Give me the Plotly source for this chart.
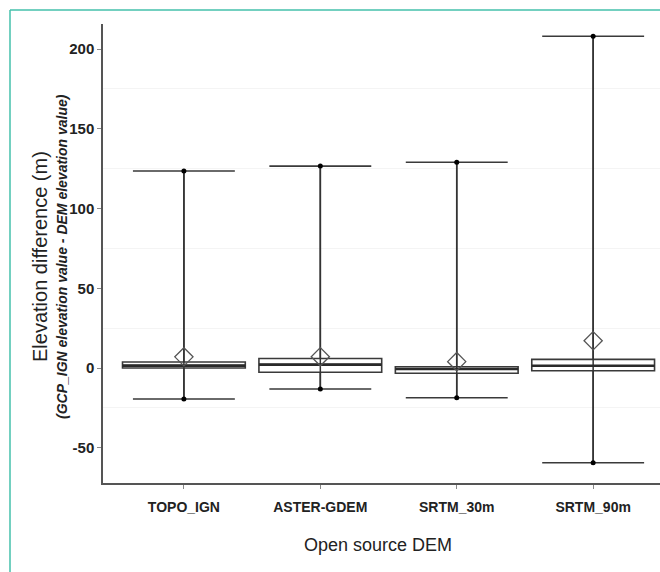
import plotly.graph_objects as go

categories = ["TOPO_IGN", "ASTER-GDEM", "SRTM_30m", "SRTM_90m"]
q1 = [0.0, -2.7, -3.3, -1.7]
median = [1.5, 2.1, -0.6, 1.4]
q3 = [3.8, 6.0, 0.8, 5.4]
minimum = [-19.4, -13.2, -18.6, -59.4]
maximum = [123.5, 126.6, 129.0, 208.0]
mean = [7.0, 7.1, 4.0, 17.1]
yticks = [-50, 0, 50, 100, 150, 200]
ytick_labels = ["-50", "0", "50", "100", "150", "200"]

pos = list(range(len(categories)))
BOXW = 0.9

# plot area in pixels
W, H = 660, 572
L, R, T, B = 103, 0, 24, 89
pw, ph = W - L - R, H - T - B

def px(xp):
    return (xp - L) / pw

def py(yp):
    return (H - B - yp) / ph

fig = go.Figure()

fig.add_trace(go.Box(
    x=pos, q1=q1, median=median, q3=q3,
    lowerfence=minimum, upperfence=maximum,
    width=BOXW, whiskerwidth=0.83,
    fillcolor="rgba(255,255,255,0)",
    line=dict(color="#3a3a3a", width=1.6),
    boxpoints=False, showlegend=False, hoverinfo="skip",
))

# vertical range lines through the boxes
for i in pos:
    fig.add_trace(go.Scatter(
        x=[pos[i], pos[i]], y=[minimum[i], maximum[i]], mode="lines",
        line=dict(color="#333333", width=1.5), showlegend=False, hoverinfo="skip"))
    fig.add_trace(go.Scatter(
        x=[pos[i] - BOXW / 2, pos[i] + BOXW / 2], y=[median[i], median[i]], mode="lines",
        line=dict(color="#2a2a2a", width=2.6), showlegend=False, hoverinfo="skip"))

# end dots
fig.add_trace(go.Scatter(
    x=pos + pos, y=minimum + maximum, mode="markers",
    marker=dict(color="black", size=5), showlegend=False, hoverinfo="skip"))

# mean diamonds
fig.add_trace(go.Scatter(
    x=pos, y=mean, mode="markers",
    marker=dict(symbol="diamond-open", color="#555555", size=14, line=dict(width=1.3)),
    showlegend=False, hoverinfo="skip"))

fig.update_layout(
    width=W, height=H,
    margin=dict(l=L, r=R, t=T, b=B, pad=0),
    plot_bgcolor="white", paper_bgcolor="white",
    font=dict(family="Liberation Sans, Arial, sans-serif", color="#222222"),
    xaxis=dict(
        range=[-0.593, 3.49], tickvals=pos, ticktext=categories,
        showgrid=False, zeroline=False,
        showline=True, linecolor="#555555", linewidth=1.5,
        ticks="outside", ticklen=4, tickcolor="#888888", tickwidth=1,
        ticklabelstandoff=6,
        tickfont=dict(size=14, weight="bold", color="#222222"),
    ),
    yaxis=dict(
        range=[-72.1, 215.7], tickvals=yticks, ticktext=ytick_labels,
        showgrid=False, zeroline=False,
        showline=True, linecolor="#555555", linewidth=1.5,
        ticks="outside", ticklen=4, tickcolor="#888888", tickwidth=1,
        tickfont=dict(size=15, weight="bold", color="#222222"),
        minor=dict(tick0=25, dtick=50, showgrid=True, gridcolor="#f4f4f4", gridwidth=1, ticks=""),
    ),
    annotations=[
        dict(text="Elevation difference (m)", x=px(40), y=py(257), xref="paper", yref="paper",
             textangle=-90, showarrow=False, font=dict(size=20, color="#222222"),
             xanchor="center", yanchor="middle"),
        dict(text="<b><i>(GCP_IGN elevation value - DEM elevation value)</i></b>",
             x=px(62), y=py(257), xref="paper", yref="paper",
             textangle=-90, showarrow=False, font=dict(size=14, color="#222222"),
             xanchor="center", yanchor="middle"),
        dict(text="Open source DEM", x=px(378), y=py(545), xref="paper", yref="paper",
             showarrow=False, font=dict(size=18, color="#222222"),
             xanchor="center", yanchor="middle"),
    ],
    shapes=[
        dict(type="line", xref="paper", yref="paper", x0=px(10), x1=px(10), y0=py(10), y1=py(572),
             line=dict(color="#45c1ab", width=1.5)),
        dict(type="line", xref="paper", yref="paper", x0=px(10), x1=px(660), y0=py(10), y1=py(10),
             line=dict(color="#45c1ab", width=1.5)),
    ],
)

fig.write_html("out.html")
